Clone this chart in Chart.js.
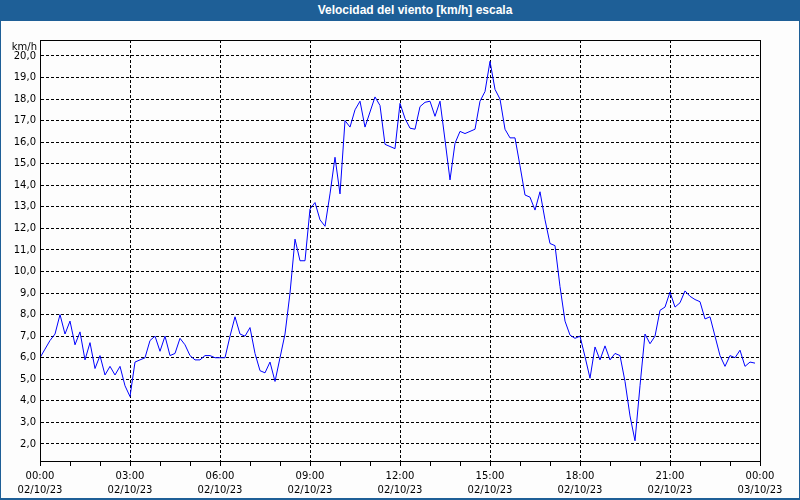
<!DOCTYPE html>
<html>
<head>
<meta charset="utf-8">
<script src="https://cdn.jsdelivr.net/npm/chart.js@4.4.0/dist/chart.umd.min.js"></script>
<style>
  body { margin: 0; background: #fff; }
  #marco { position: relative; width: 800px; height: 500px; overflow: hidden; background: #fdfdfd; }
  #grafico { position: absolute; left: 0; top: 0; }
  #titulo {
    position: absolute; left: 0; top: 0; width: 800px; height: 21px;
    background: #1e5f97; color: #fff; box-sizing: border-box; padding-left: 30px;
    font: bold 12px "Liberation Sans", Arial, sans-serif; line-height: 21px; text-align: center;
  }
  #borde {
    position: absolute; left: 0; top: 0; width: 800px; height: 500px; box-sizing: border-box;
    border-left: 1px solid #1e5f97; border-right: 1px solid #1e5f97; border-bottom: 2px solid #1e5f97;
    pointer-events: none;
  }
</style>
</head>
<body>
<div id="marco">
  <canvas id="grafico" width="800" height="500"></canvas>
  <div id="titulo">Velocidad del viento [km/h] escala</div>
  <div id="borde"></div>
</div>
<script>
// una lectura cada 10 minutos, 02/10/23 00:00 -> 23:50
const PASO_MIN = 10;
const velocidad = [
  6.0, 6.4, 6.8, 7.1, 8.0, 7.1, 7.7, 6.6, 7.2, 5.9,
  6.7, 5.5, 6.1, 5.2, 5.6, 5.2, 5.6, 4.7, 4.2, 5.8,
  5.9, 6.0, 6.8, 7.0, 6.3, 7.0, 6.1, 6.2, 6.9, 6.6,
  6.1, 5.9, 5.9, 6.1, 6.1, 6.0, 6.0, 6.0, 7.0, 7.9,
  7.1, 7.0, 7.4, 6.2, 5.4, 5.3, 5.8, 4.9, 6.0, 7.1,
  9.0, 11.5, 10.5, 10.5, 12.9, 13.2, 12.4, 12.1, 13.6, 15.3,
  13.6, 17.0, 16.7, 17.5, 17.9, 16.7, 17.4, 18.1, 17.7, 15.9,
  15.8, 15.7, 17.8, 17.1, 16.65, 16.6, 17.65, 17.85, 17.9, 17.2,
  17.9, 16.1, 14.25, 15.95, 16.5, 16.4, 16.5, 16.6, 17.9, 18.35,
  19.75, 18.45, 18.0, 16.6, 16.2, 16.2, 14.9, 13.55, 13.45, 12.85,
  13.7, 12.4, 11.3, 11.2, 9.3, 7.7, 7.05, 6.9, 7.0, 6.05,
  5.05, 6.5, 5.9, 6.55, 5.9, 6.2, 6.1, 4.9, 3.3, 2.15,
  4.7, 7.1, 6.65, 7.0, 8.2, 8.35, 9.05, 8.35, 8.55, 9.1,
  8.85, 8.7, 8.6, 7.8, 7.9, 7.0, 6.1, 5.6, 6.1, 6.0,
  6.35, 5.6, 5.8, 5.75
];

// etiquetas del eje X (cada 3 horas)
const horasEje = ['00:00', '03:00', '06:00', '09:00', '12:00', '15:00', '18:00', '21:00', '00:00'];
const fechasEje = ['02/10/23', '02/10/23', '02/10/23', '02/10/23', '02/10/23', '02/10/23', '02/10/23', '02/10/23', '03/10/23'];
// marcas del eje Y
const valoresY = [2, 3, 4, 5, 6, 7, 8, 9, 10, 11, 12, 13, 14, 15, 16, 17, 18, 19, 20];

const puntos = velocidad.map((v, i) => ({ x: i * PASO_MIN, y: v }));

const fuente = { family: 'DejaVu Sans', size: 10 };

// recuadro del área de trazado y la unidad
const marcoPlugin = {
  id: 'marcoPlugin',
  afterDraw(chart) {
    const { ctx, chartArea } = chart;
    ctx.save();
    ctx.strokeStyle = '#000';
    ctx.lineWidth = 1;
    ctx.strokeRect(Math.round(chartArea.left) + 0.5, Math.round(chartArea.top) + 0.5,
      Math.round(chartArea.right - chartArea.left), Math.round(chartArea.bottom - chartArea.top));
    ctx.fillStyle = '#000';
    ctx.font = '10px "DejaVu Sans"';
    ctx.textAlign = 'right';
    ctx.textBaseline = 'alphabetic';
    ctx.fillText('km/h', 37, 50);
    ctx.restore();
  }
};

new Chart(document.getElementById('grafico').getContext('2d'), {
  type: 'line',
  data: {
    datasets: [{
      label: 'Velocidad del viento',
      data: puntos,
      borderColor: '#0000ff',
      borderWidth: 1,
      pointRadius: 0,
      tension: 0,
      fill: false
    }]
  },
  options: {
    responsive: false,
    animation: false,
    events: [],
    layout: { padding: { top: 40, right: 40, left: 0, bottom: 0 } },
    plugins: { legend: { display: false }, tooltip: { enabled: false }, title: { display: false } },
    scales: {
      x: {
        type: 'linear',
        min: 0,
        max: 1440,
        afterBuildTicks: (scale) => {
          const t = [];
          for (let m = 0; m <= 1440; m += 60) t.push({ value: m });
          scale.ticks = t;
        },
        afterFit: (scale) => { scale.height = 39; },
        grid: {
          color: (c) => {
            const v = c.tick ? c.tick.value : 0;
            return (v % 180 === 0 && v > 0 && v < 1440) ? '#000' : 'rgba(0,0,0,0)';
          },
          tickColor: '#000',
          tickLength: 5,
          lineWidth: 1
        },
        border: { color: '#000', width: 1, dash: [3, 2] },
        ticks: {
          autoSkip: false,
          maxRotation: 0,
          padding: 3,
          color: '#000',
          font: { family: 'DejaVu Sans', size: 10, lineHeight: 1.45 },
          callback: (v) => (v % 180 === 0) ? [horasEje[v / 180], fechasEje[v / 180]] : ''
        }
      },
      y: {
        min: 1.21,
        max: 20.74,
        afterBuildTicks: (scale) => { scale.ticks = valoresY.map(v => ({ value: v })); },
        afterFit: (scale) => { scale.width = 40; },
        grid: { color: '#000', drawTicks: false, lineWidth: 1 },
        border: { color: '#000', width: 1, dash: [3, 2] },
        ticks: {
          padding: 4,
          color: '#000',
          font: fuente,
          callback: (v) => v.toFixed(1).replace('.', ',')
        }
      }
    }
  },
  plugins: [marcoPlugin]
});
</script>
</body>
</html>
